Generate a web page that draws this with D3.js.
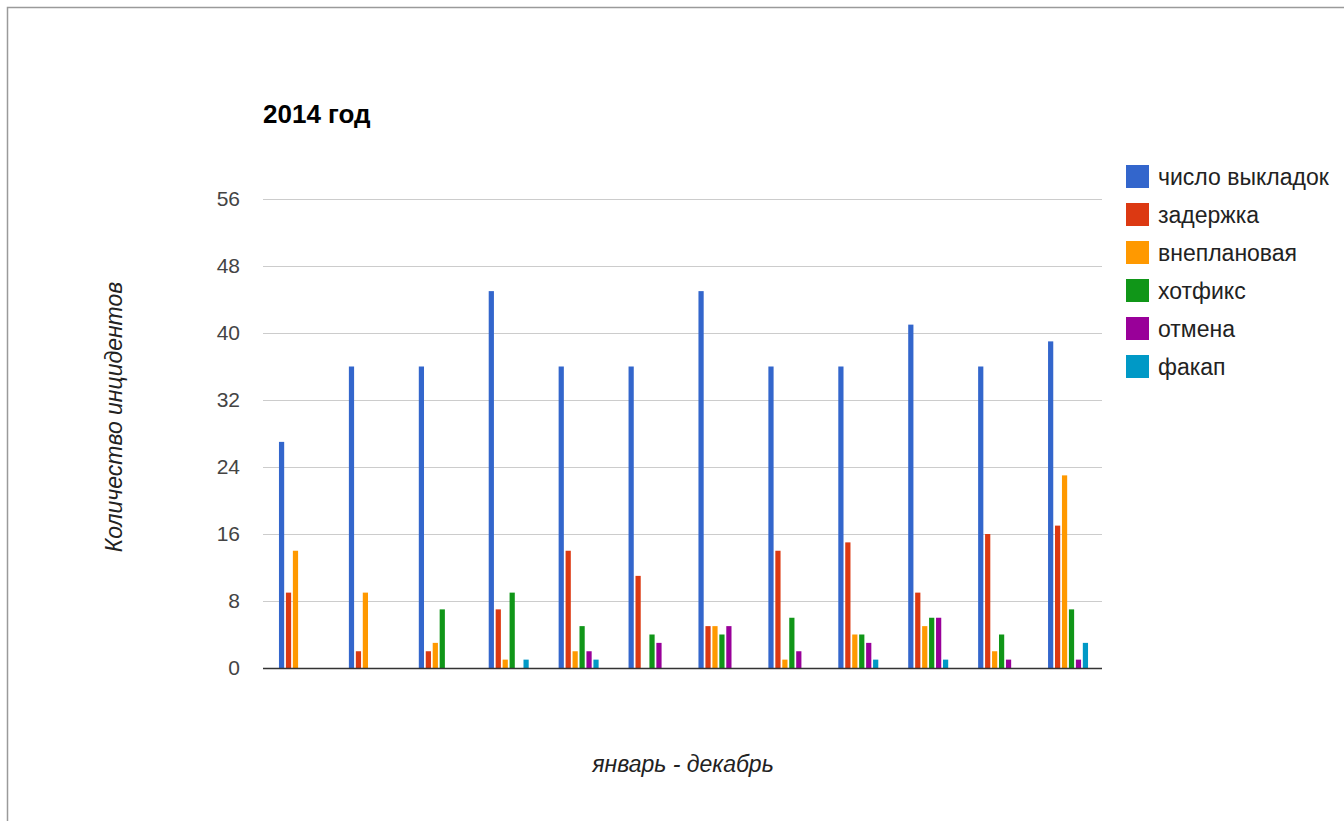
<!DOCTYPE html>
<html>
<head>
<meta charset="utf-8">
<script src="https://cdn.jsdelivr.net/npm/d3@7"></script>
<style>
  html, body { margin: 0; padding: 0; background: #fff; }
  svg { display: block; font-family: "Liberation Sans", Arial, Helvetica, sans-serif; }
</style>
</head>
<body>
<svg id="chart" width="1344" height="821"></svg>
<script>
const months = ["январь","февраль","март","апрель","май","июнь","июль","август","сентябрь","октябрь","ноябрь","декабрь"];
const seriesNames = ["число выкладок","задержка","внеплановая","хотфикс","отмена","факап"];
const seriesColors = ["#3366cc","#dc3912","#ff9900","#109618","#990099","#0099c6"];
const releases  = [27, 36, 36, 45, 36, 36, 45, 36, 36, 41, 36, 39];
const delays    = [ 9,  2,  2,  7, 14, 11,  5, 14, 15,  9, 16, 17];
const unplanned = [14,  9,  3,  1,  2,  0,  5,  1,  4,  5,  2, 23];
const hotfixes  = [ 0,  0,  7,  9,  5,  4,  4,  6,  4,  6,  4,  7];
const cancels   = [ 0,  0,  0,  0,  2,  3,  5,  2,  3,  6,  1,  1];
const failures  = [ 0,  0,  0,  1,  1,  0,  0,  0,  1,  1,  0,  3];
const yTicks = [0, 8, 16, 24, 32, 40, 48, 56];
const chartTitle = "2014 год";
const yTitle = "Количество инцидентов";
const xTitle = "январь - декабрь";

const seriesValues = [releases, delays, unplanned, hotfixes, cancels, failures];

const svg = d3.select("#chart");

// frame
svg.append("path")
  .attr("d", "M7.5,821 L7.5,7.5 L1344,7.5")
  .attr("fill", "none").attr("stroke", "#9a9a9a").attr("stroke-width", 1.5);

const plotLeft = 263, plotRight = 1102, plotTop = 199, plotBottom = 668;

const x0 = d3.scaleBand().domain(months).range([plotLeft, plotRight]).paddingInner(0.428).paddingOuter(0.214);
const x1 = d3.scaleBand().domain(seriesNames).range([0, x0.bandwidth()]).paddingInner(0.25);
const y = d3.scaleLinear().domain([0, 56]).range([plotBottom, plotTop]);

// gridlines
svg.append("g").selectAll("line").data(yTicks.filter(t => t !== 0)).join("line")
  .attr("x1", plotLeft).attr("x2", plotRight)
  .attr("y1", d => Math.round(y(d)) + 0.5).attr("y2", d => Math.round(y(d)) + 0.5)
  .attr("stroke", "#cccccc").attr("stroke-width", 1);

// y axis labels
const yAxis = d3.axisLeft(y).tickValues(yTicks).tickSize(0).tickPadding(23);
const ya = svg.append("g").attr("transform", `translate(${plotLeft},0)`).call(yAxis);
ya.select(".domain").remove();
ya.selectAll("text").attr("font-size", 21).attr("fill", "#444").attr("font-family", "Liberation Sans, Arial, sans-serif");

// bars
const groups = svg.append("g").selectAll("g").data(months).join("g")
  .attr("transform", d => `translate(${x0(d) + 1},0)`);
groups.selectAll("rect")
  .data((m, i) => seriesNames.map((s, j) => ({ s, j, v: seriesValues[j][i] })))
  .join("rect")
  .attr("x", d => x1(d.s))
  .attr("width", x1.bandwidth())
  .attr("y", d => y(d.v))
  .attr("height", d => y(0) - y(d.v))
  .attr("fill", d => seriesColors[d.j]);

// baseline
svg.append("line")
  .attr("x1", plotLeft).attr("x2", plotRight)
  .attr("y1", y(0) + 0.5).attr("y2", y(0) + 0.5)
  .attr("stroke", "#333").attr("stroke-width", 1.5);

// title
svg.append("text").attr("x", 263).attr("y", 123)
  .attr("font-size", 26).attr("font-weight", "bold").attr("fill", "#000").text(chartTitle);

// axis titles
svg.append("text")
  .attr("transform", `translate(122,417) rotate(-90)`)
  .attr("text-anchor", "middle").attr("font-size", 23).attr("font-style", "italic").attr("fill", "#222")
  .text(yTitle);
svg.append("text").attr("x", 683).attr("y", 772)
  .attr("text-anchor", "middle").attr("font-size", 23).attr("font-style", "italic").attr("fill", "#222")
  .text(xTitle);

// legend
const legend = svg.append("g").attr("transform", "translate(1126,165)");
const li = legend.selectAll("g").data(seriesNames).join("g")
  .attr("transform", (d, i) => `translate(0,${i * 38})`);
li.append("rect").attr("width", 23).attr("height", 23).attr("fill", (d, i) => seriesColors[i]);
li.append("text").attr("x", 32).attr("y", 20).attr("font-size", 23).attr("fill", "#222").text(d => d);
</script>
</body>
</html>
